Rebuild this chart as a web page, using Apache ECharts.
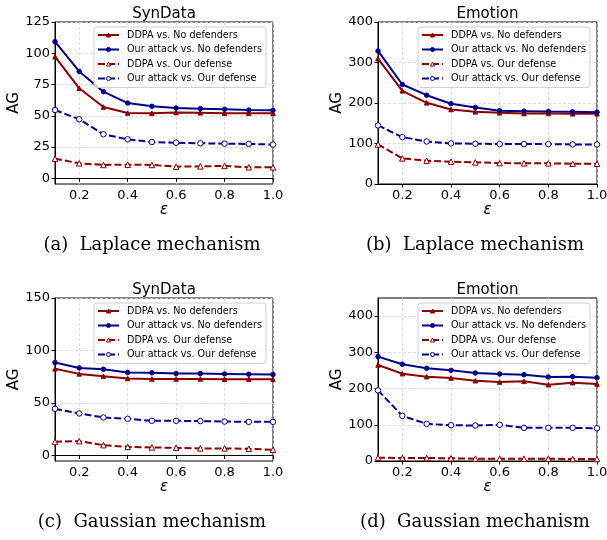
<!DOCTYPE html>
<html>
<head>
    <meta charset="utf-8">
    <script type="text/javascript" src="https://cdn.jsdelivr.net/npm/echarts@6/dist/echarts.min.js"></script>
    <style>
        html, body { margin: 0; padding: 0; background: #fff; }
    </style>
</head>
<body>
    <div id="main" style="width: 607px;height:540px;"></div>
    <script type="text/javascript">
    // epsilon values (x axis)
    let eps = [0.1, 0.2, 0.3, 0.4, 0.5, 0.6, 0.7, 0.8, 0.9, 1.0]
    let xTicks = [0.2, 0.4, 0.6, 0.8, 1.0]
    let names = ['DDPA vs. No defenders', 'Our attack vs. No defenders', 'DDPA vs. Our defense', 'Our attack vs. Our defense']

    // (a) SynData, Laplace
    let synLapDdpaNo = [97.3, 72, 57, 52.2, 52, 52.6, 52.4, 52, 52, 52]
    let synLapOursNo = [109.3, 85.5, 69.3, 60.2, 57.6, 56.2, 55.7, 55.2, 54.6, 54.4]
    let synLapDdpaDef = [15.7, 12, 10.7, 10.9, 10.7, 9.3, 9.6, 9.9, 8.8, 8.8]
    let synLapOursDef = [54.6, 47.2, 35.2, 31.2, 29, 28.5, 28, 27.7, 27.5, 27]
    // (b) Emotion, Laplace
    let emoLapDdpaNo = [309.7, 230, 200.4, 184, 178.2, 175.8, 174, 174, 173.3, 173.3]
    let emoLapOursNo = [328.5, 245.6, 219.3, 198, 189, 180.7, 179.9, 179, 178.2, 177.4]
    let emoLapDdpaDef = [97.7, 63.2, 57.5, 55, 53.4, 51.7, 51, 51, 50, 50]
    let emoLapOursDef = [144.6, 115.8, 105, 100.2, 99.4, 98.6, 98.6, 98.6, 97.7, 97.7]
    // (c) SynData, Gaussian
    let synGauDdpaNo = [82.5, 77.7, 75.5, 73.3, 72.9, 72.9, 72.9, 72.6, 72.6, 72.6]
    let synGauOursNo = [88.5, 83.4, 82.1, 79, 78.7, 78, 78, 77.7, 77.4, 77.1]
    let synGauDdpaDef = [13, 13.6, 9.8, 8.2, 7.6, 7.3, 6.7, 6.7, 6.3, 5.4]
    let synGauOursDef = [44.4, 40, 36.2, 34.9, 33, 33, 32.7, 32.3, 32, 32]
    // (d) Emotion, Gaussian
    let emoGauDdpaNo = [265, 241, 232.8, 229, 221.6, 218, 219.9, 210.6, 216.2, 212.5]
    let emoGauOursNo = [288.2, 267, 256, 250.3, 243, 240.2, 238.3, 231.9, 232.8, 230]
    let emoGauDdpaDef = [9.2, 8.3, 8.3, 7.4, 6.5, 6.5, 6.5, 6.5, 5.5, 5.5]
    let emoGauOursDef = [195, 124.7, 102.5, 98.8, 98, 99.8, 91.5, 91.5, 91.5, 90.5]

    let yTicksA = [0, 25, 50, 75, 100, 125]
    let yTicksB = [0, 100, 200, 300, 400]
    let yTicksC = [0, 50, 100, 150]
    let yTicksD = [0, 100, 200, 300, 400]

    let panels = [
        { title: 'SynData', caption: '(a)  Laplace mechanism', min: -4.55, max: 125, ticks: yTicksA,
          data: [synLapDdpaNo, synLapOursNo, synLapDdpaDef, synLapOursDef] },
        { title: 'Emotion', caption: '(b)  Laplace mechanism', min: 0, max: 400, ticks: yTicksB,
          data: [emoLapDdpaNo, emoLapOursNo, emoLapDdpaDef, emoLapOursDef] },
        { title: 'SynData', caption: '(c)  Gaussian mechanism', min: -5.3, max: 150, ticks: yTicksC,
          data: [synGauDdpaNo, synGauOursNo, synGauDdpaDef, synGauOursDef] },
        { title: 'Emotion', caption: '(d)  Gaussian mechanism', min: 0, max: 450, ticks: yTicksD,
          data: [emoGauDdpaNo, emoGauOursNo, emoGauDdpaDef, emoGauOursDef] }
    ]

    let grids = [
        { left: 55, top: 22, width: 218, height: 162 },
        { left: 378, top: 22, width: 219, height: 162 },
        { left: 55, top: 298, width: 218, height: 163 },
        { left: 378, top: 298, width: 219, height: 163 }
    ]
    let titleTop = [7, 7, 283, 283]
    let captionPos = [[152, 236], [475, 236], [152, 513], [475, 513]]

    let RED = '#8b0000'
    let BLUE = '#00008b'
    let styles = [
        { color: RED, fill: RED, symbol: 'triangle', dash: 'solid', size: 4.5 },
        { color: BLUE, fill: BLUE, symbol: 'circle', dash: 'solid', size: 4.5 },
        { color: RED, fill: '#fff', symbol: 'triangle', dash: [7, 3], size: 5.5 },
        { color: BLUE, fill: '#fff', symbol: 'circle', dash: [7, 3], size: 5.5 }
    ]
    let font = 'DejaVu Sans'
    let gridLine = { show: true, lineStyle: { color: '#d4d4d4', type: [3, 2], width: 0.8 } }

    var myChart = echarts.init(document.getElementById('main'))

    let option = {
        animation: false,
        backgroundColor: '#fff',
        title: [],
        legend: [],
        grid: [],
        xAxis: [],
        yAxis: [],
        series: []
    }

    // legend entries carry the marker fill so hollow markers stay hollow
    let legendData = names.map((n, k) => ({
        name: n,
        itemStyle: { color: styles[k].fill, borderColor: styles[k].color, borderWidth: 1 }
    }))

    panels.forEach((p, i) => {
        let g = grids[i]
        option.grid.push({
            left: g.left, top: g.top, width: g.width, height: g.height,
            show: true, borderColor: '#000', borderWidth: 1,
            containLabel: false, outerBoundsMode: 'none'
        })
        option.title.push({
            text: p.title, left: g.left + g.width / 2, top: titleTop[i], textAlign: 'center',
            padding: 0,
            textStyle: { fontFamily: font, fontSize: 15, fontWeight: 'normal', color: '#000' }
        })
        option.title.push({
            text: p.caption, left: captionPos[i][0], top: captionPos[i][1], textAlign: 'center',
            padding: 0,
            textStyle: { fontFamily: 'DejaVu Serif', fontSize: 18, fontWeight: 'normal', color: '#000' }
        })
        option.legend.push({
            data: legendData,
            orient: 'vertical',
            left: g.left + (i % 2 == 0 ? 39 : 40),
            top: g.top + 5,
            itemWidth: 21,
            itemHeight: 5,
            itemGap: 2.5,
            padding: [2, 4, 3, 3],
            backgroundColor: 'rgba(255,255,255,0.8)',
            borderColor: '#d0d0d0',
            borderWidth: 1,
            borderRadius: 3,
            textStyle: { fontFamily: font, fontSize: 9.6, color: '#000', lineHeight: 12, padding: [0, 0, 0, 3] }
        })
        option.xAxis.push({
            type: 'value', gridIndex: i, min: 0.1, max: 1.0,
            name: 'ε', nameLocation: 'middle', nameGap: 19,
            nameTextStyle: { fontFamily: font, fontSize: 15, fontStyle: 'italic', color: '#000' },
            axisLine: { show: true, lineStyle: { color: '#000', width: 1 } },
            axisTick: { show: true, length: 3.5, customValues: xTicks, lineStyle: { color: '#000' } },
            axisLabel: { customValues: xTicks, margin: 5, fontFamily: font, fontSize: 13, color: '#000',
                formatter: v => v.toFixed(1) },
            splitLine: gridLine
        })
        option.yAxis.push({
            type: 'value', gridIndex: i, min: p.min, max: p.max,
            name: 'AG', nameLocation: 'middle', nameGap: 31,
            nameTextStyle: { fontFamily: font, fontSize: 15, color: '#000' },
            axisLine: { show: true, lineStyle: { color: '#000', width: 1 } },
            axisTick: { show: true, length: 3.5, customValues: p.ticks, lineStyle: { color: '#000' } },
            axisLabel: { customValues: p.ticks, margin: 5, fontFamily: font, fontSize: 13, color: '#000' },
            splitLine: gridLine
        })
        p.data.forEach((arr, k) => {
            let s = styles[k]
            option.series.push({
                name: names[k],
                type: 'line',
                xAxisIndex: i,
                yAxisIndex: i,
                data: eps.map((x, j) => [x, arr[j]]),
                symbol: s.symbol,
                symbolSize: s.size,
                showAllSymbol: true,
                color: s.color,
                lineStyle: { color: s.color, width: 2, type: s.dash },
                itemStyle: { color: s.fill, borderColor: s.color, borderWidth: 1 },
                z: 2 + k
            })
        })
    })

    myChart.setOption(option)
    </script>
</body>
</html>
